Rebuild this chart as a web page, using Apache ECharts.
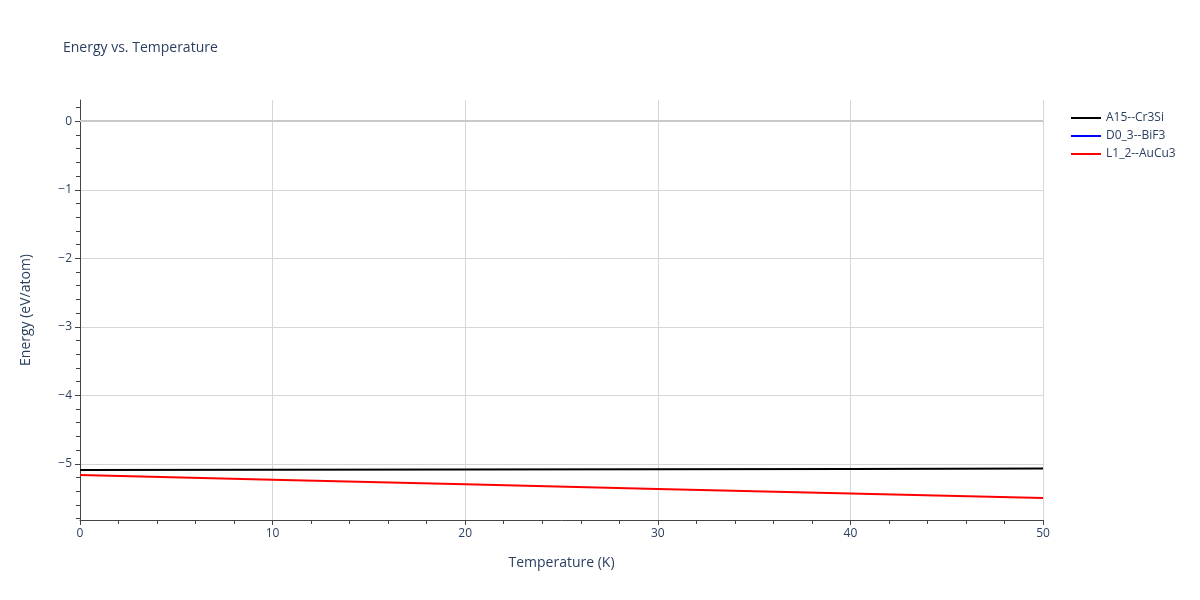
<!DOCTYPE html>
<html>
<head>
<meta charset="utf-8">
<script src="https://cdn.jsdelivr.net/npm/echarts@6/dist/echarts.min.js"></script>
</head>
<body style="margin:0">
<div id="chart" style="width:1200px;height:600px"></div>
<script>
var temps = [0, 10, 20, 30, 40, 50];
var a15 = [-5.090, -5.086, -5.082, -5.078, -5.074, -5.070];
var d03 = [];
var l12 = [-5.165, -5.232, -5.299, -5.366, -5.433, -5.500];
var yLabels = [0, -1, -2, -3, -4, -5];
var yMinor = [];
for (var v = -5.8; v <= 0.3; v += 0.2) yMinor.push(Math.round(v * 10) / 10);

function pairs(ys) {
	return ys.map(function(y, i) { return [temps[i], y]; });
}

var txt = '#2a3f5f';
var font = '"Open Sans", Arial, sans-serif';
var chart = echarts.init(document.getElementById('chart'));
chart.setOption({
	backgroundColor: '#fff',
	textStyle: { fontFamily: font },
	title: {
		text: 'Energy vs. Temperature',
		left: 58, top: 36,
		textStyle: { fontSize: 14, fontWeight: 'normal', color: txt, fontFamily: font }
	},
	legend: {
		orient: 'vertical', left: 1066, top: 107,
		icon: 'rect', itemWidth: 30, itemHeight: 2, itemGap: 6,
		textStyle: { color: txt, fontSize: 12, fontFamily: font },
		data: ['A15--Cr3Si', 'D0_3--BiF3', 'L1_2--AuCu3']
	},
	grid: { left: 80, right: 157, top: 100, bottom: 80, containLabel: false },
	xAxis: [{
		type: 'value', min: 0, max: 50, interval: 10,
		name: 'Temperature (K)', nameLocation: 'middle', nameGap: 36,
		nameTextStyle: { color: txt, fontSize: 14 },
		axisLine: { onZero: false, lineStyle: { color: '#444' } },
		axisTick: { show: true, length: 5, lineStyle: { color: '#444' } },
		axisLabel: { color: txt, fontSize: 12 },
		splitLine: { show: true, lineStyle: { color: '#d6d6d6' } }
	}, {
		type: 'value', min: 0, max: 50, interval: 2, position: 'bottom',
		axisLine: { show: false, onZero: false }, axisLabel: { show: false },
		axisTick: { show: true, length: 4, lineStyle: { color: '#444' } },
		splitLine: { show: false }
	}],
	yAxis: [{
		type: 'value', min: -5.82, max: 0.31,
		name: 'Energy (eV/atom)', nameLocation: 'middle', nameGap: 47,
		nameTextStyle: { color: txt, fontSize: 14 },
		axisLine: { show: true, onZero: false, lineStyle: { color: '#444' } },
		axisTick: { show: true, length: 5, customValues: yLabels, lineStyle: { color: '#444' } },
		axisLabel: { color: txt, fontSize: 12, customValues: yLabels,
			formatter: function(v) { return v < 0 ? '\u2212' + Math.abs(v) : String(v); } },
		splitLine: { show: true, lineStyle: { color: '#d6d6d6' } }
	}, {
		type: 'value', min: -5.82, max: 0.31, position: 'left',
		axisLine: { show: false, onZero: false }, axisLabel: { show: false },
		axisTick: { show: true, length: 4, customValues: yMinor, lineStyle: { color: '#444' } },
		splitLine: { show: false }
	}],
	series: [{
		name: 'A15--Cr3Si', type: 'line', data: pairs(a15), showSymbol: false,
		itemStyle: { color: '#000' }, lineStyle: { width: 2, color: '#000' },
		markLine: { silent: true, symbol: 'none', label: { show: false },
			lineStyle: { color: '#c8c8c8', width: 2, type: 'solid' }, data: [{ yAxis: 0 }] }
	}, {
		name: 'D0_3--BiF3', type: 'line', data: pairs(d03), showSymbol: false,
		itemStyle: { color: '#0000ff' }, lineStyle: { width: 2, color: '#0000ff' }
	}, {
		name: 'L1_2--AuCu3', type: 'line', data: pairs(l12), showSymbol: false,
		itemStyle: { color: '#ff0000' }, lineStyle: { width: 2, color: '#ff0000' }
	}]
});
</script>
</body>
</html>
